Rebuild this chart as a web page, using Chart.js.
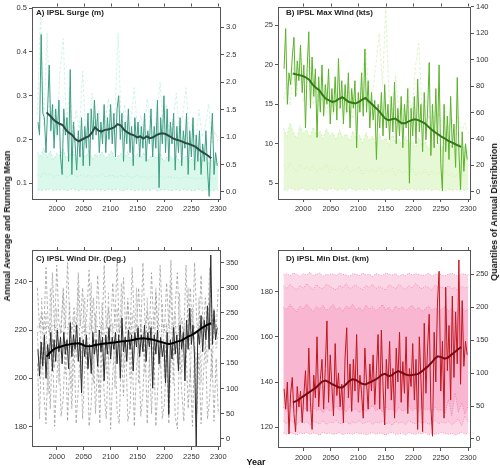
<!DOCTYPE html>
<html><head><meta charset="utf-8">
<script src="https://cdn.jsdelivr.net/npm/chart.js@4.4.0/dist/chart.umd.min.js"></script>
<style>
body{margin:0;background:#fff;width:500px;height:468px;position:relative;overflow:hidden;font-family:"Liberation Sans",Arial,sans-serif;}
canvas{position:absolute;}
.t{position:absolute;font-weight:bold;font-size:9px;color:#111;white-space:nowrap;}
.pt{position:absolute;font-weight:bold;font-size:8px;color:#222;white-space:nowrap;}
</style></head><body>
<canvas id="cA" width="250" height="220" style="left:0;top:0"></canvas>
<canvas id="cB" width="250" height="220" style="left:250px;top:0"></canvas>
<canvas id="cC" width="250" height="248" style="left:0;top:220px"></canvas>
<canvas id="cD" width="250" height="248" style="left:250px;top:220px"></canvas>
<div class="pt" style="left:36px;top:8px">A) IPSL Surge (m)</div>
<div class="pt" style="left:286px;top:8px">B) IPSL Max Wind (kts)</div>
<div class="pt" style="left:36px;top:254px">C) IPSL Wind Dir. (Deg.)</div>
<div class="pt" style="left:286px;top:254px">D) IPSL Min Dist. (km)</div>
<div class="t" style="left:7px;top:226px;transform:translate(-50%,-50%) rotate(-90deg)">Annual Average and Running Mean</div>
<div class="t" style="left:494px;top:212px;transform:translate(-50%,-50%) rotate(-90deg)">Quantiles of Annual Distribution</div>
<div class="t" style="left:256px;top:462px;transform:translate(-50%,-50%)">Year</div>
<script>
// ---------- categories / ticks ----------
const xTicks = [2000, 2050, 2100, 2150, 2200, 2250, 2300];
const annualStart = 1965, annualStep = 3;
const runStart = 1981, runStep = 6;
const qStart = 1964, qStep = 6;
const qcStart = 1964, qcStep = 4;

const ticksA_left = [0.1, 0.2, 0.3, 0.4, 0.5];
const ticksA_right = [0, 0.5, 1.0, 1.5, 2.0, 2.5, 3.0];
const ticksB_left = [5, 10, 15, 20, 25];
const ticksB_right = [0, 20, 40, 60, 80, 100, 120, 140];
const ticksC_left = [180, 200, 220, 240];
const ticksC_right = [0, 50, 100, 150, 200, 250, 300, 350];
const ticksD_left = [120, 140, 160, 180];
const ticksD_right = [0, 50, 100, 150, 200, 250];

// ---------- A) Surge ----------
const surgeAnnual = [0.24,0.21,0.44,0.26,0.25,0.17,0.27,0.37,0.22,0.28,
 0.18,0.27,0.21,0.29,0.16,0.12,0.27,0.21,0.25,0.15,
 0.36,0.12,0.24,0.19,0.13,0.22,0.16,0.25,0.14,0.23,
 0.18,0.26,0.14,0.27,0.20,0.29,0.21,0.26,0.17,0.24,
 0.19,0.28,0.17,0.25,0.20,0.28,0.19,0.26,0.16,0.27,
 0.30,0.20,0.26,0.15,0.24,0.19,0.27,0.17,0.23,0.14,
 0.25,0.19,0.24,0.16,0.23,0.18,0.26,0.15,0.22,0.19,
 0.27,0.16,0.23,0.18,0.29,0.09,0.25,0.19,0.30,0.17,
 0.27,0.15,0.24,0.19,0.26,0.13,0.23,0.17,0.25,0.14,
 0.22,0.18,0.26,0.12,0.22,0.16,0.25,0.13,0.21,0.15,
 0.22,0.12,0.19,0.15,0.22,0.13,0.07,0.19,0.26,0.12,
 0.17,0.14];
const surgeRun = [0.262,0.255,0.247,0.240,0.236,0.233,0.222,0.215,0.210,0.200,
 0.196,0.200,0.204,0.207,0.215,0.228,0.221,0.218,0.222,0.223,
 0.225,0.228,0.235,0.232,0.222,0.216,0.212,0.210,0.205,0.207,
 0.202,0.207,0.203,0.205,0.210,0.213,0.214,0.212,0.208,0.203,
 0.200,0.198,0.195,0.192,0.190,0.187,0.184,0.178,0.172,0.168,
 0.163,0.157];
const surgeQLow = [0.04,0.02,0.05,0.03,0.06,0.02,0.04,0.03,0.05,0.02,
 0.04,0.06,0.03,0.02,0.05,0.03,0.04,0.02,0.06,0.03,
 0.04,0.02,0.05,0.03,0.04,0.06,0.02,0.03,0.05,0.04,
 0.02,0.03,0.05,0.02,0.04,0.03,0.06,0.02,0.04,0.03,
 0.05,0.02,0.03,0.04,0.02,0.05,0.03,0.04,0.02,0.03,
 0.05,0.02,0.04,0.03,0.02,0.04,0.03];
const surgeQMid = [0.32,0.28,0.35,0.30,0.33,0.27,0.31,0.29,0.34,0.26,
 0.30,0.33,0.28,0.29,0.32,0.27,0.31,0.26,0.30,0.28,
 0.33,0.27,0.29,0.31,0.26,0.28,0.30,0.27,0.32,0.25,
 0.28,0.30,0.26,0.29,0.25,0.27,0.29,0.26,0.30,0.24,
 0.27,0.28,0.25,0.27,0.24,0.26,0.28,0.25,0.26,0.23,
 0.26,0.24,0.27,0.23,0.25,0.24,0.22];
const surgeQHigh = [0.72,0.65,0.80,0.62,0.75,0.58,0.70,0.66,0.78,0.60,
 0.68,0.74,0.57,0.66,0.71,0.63,0.76,0.59,0.69,0.64,
 0.73,0.61,0.67,0.75,0.58,0.66,0.70,0.62,0.74,0.57,
 0.65,0.69,0.60,0.72,0.56,0.64,0.68,0.59,0.71,0.55,
 0.63,0.67,0.58,0.66,0.54,0.62,0.65,0.57,0.60,0.53,
 0.61,0.56,0.64,0.52,0.58,0.55,0.50];
const surgeQMax = [1.4,3.3,1.2,2.9,1.1,1.6,1.0,2.2,2.8,1.2,
 1.9,1.0,1.5,1.1,2.2,1.0,1.4,1.8,1.1,1.5,
 1.0,1.3,1.7,1.0,1.4,2.9,1.1,1.6,1.0,1.3,
 1.9,1.1,1.4,1.0,1.7,1.2,1.0,1.5,2.0,1.1,
 1.6,1.0,1.3,1.8,1.0,1.4,1.9,1.1,1.3,0.9,
 1.5,1.0,1.2,1.6,0.9,1.1,0.9];

// ---------- B) Max Wind ----------
const windAnnual = [19.5,24.6,15.0,19.0,17.5,21.0,23.5,16.0,20.5,18.0,
 22.5,16.5,20.0,12.0,19.5,24.2,14.5,21.0,16.0,19.5,
 10.8,18.5,14.0,20.0,13.5,17.5,15.0,19.5,12.5,17.0,
 14.0,18.5,13.0,20.8,14.5,18.0,12.5,17.5,14.0,19.0,
 12.0,17.0,14.5,18.0,9.5,16.5,14.0,19.0,13.5,22.0,
 14.0,18.0,12.0,16.5,13.0,15.5,8.0,15.0,12.0,16.5,
 11.0,17.5,12.0,15.0,10.5,16.0,11.5,17.8,10.0,14.5,
 11.0,16.0,9.5,15.0,12.0,17.0,5.0,14.5,11.0,16.0,
 10.0,18.2,11.5,15.0,9.0,16.5,10.5,14.0,20.3,8.5,
 15.0,9.5,17.0,10.0,20.0,7.5,4.0,15.0,9.0,13.5,
 8.0,16.0,9.5,12.5,7.0,18.4,9.0,4.2,11.5,6.5,
 10.0,8.0];
const windRun = [18.9,18.8,18.7,18.6,18.4,18.1,17.5,17.1,16.8,16.2,
 15.7,15.5,15.3,15.4,15.7,15.9,15.6,15.3,15.2,15.1,
 15.3,15.6,15.8,15.4,15.0,14.6,14.2,13.7,13.2,13.0,
 13.1,13.2,12.9,12.6,12.6,12.8,13.0,13.1,13.0,12.8,
 12.6,12.2,11.8,11.5,11.2,10.9,10.7,10.4,10.2,10.0,
 9.8,9.6];
const windQLow = [2,1,3,2,1,2,3,1,2,2,1,3,2,1,2,3,1,2,2,1,3,2,1,2,2,1,3,1,2,2,
 1,2,3,1,2,1,2,2,1,3,1,2,1,2,2,1,2,1,3,1,2,1,2,1,2,1,2];
const windQMid = [20,16,22,18,15,21,17,19,16,20,15,18,17,21,14,19,16,18,15,20,
 14,17,16,19,13,18,15,17,14,19,13,16,15,18,12,17,14,16,13,18,
 12,15,14,17,12,16,13,15,11,16,12,14,11,15,12,13,11];
const windQHigh = [48,42,52,45,40,50,44,47,41,49,43,46,40,48,42,45,39,47,41,44,
 38,46,40,43,37,45,39,42,36,44,38,41,35,43,37,40,34,42,36,39,
 33,41,35,38,32,40,34,37,31,39,33,36,30,38,32,35,30];
const windQMax = [70,82,65,95,72,110,68,85,100,66,78,62,74,60,70,58,68,62,75,58,
 66,55,70,60,92,108,64,75,96,120,80,140,70,62,88,58,66,54,72,60,
 95,112,62,70,55,66,52,60,50,64,48,56,46,58,45,52,44];

// ---------- C) Wind Direction ----------
const dirAnnual = [212,201,215,205,218,200,214,208,219,203,
 216,207,220,211,217,206,219,210,216,204,
 223,209,218,212,222,207,217,194,216,209,
 218,204,214,202,219,210,216,205,220,211,
 217,199,218,210,221,208,217,212,219,206,
 218,200,225,211,217,207,220,212,218,203,
 219,213,221,209,218,211,222,207,219,213,
 221,196,218,210,220,206,217,209,214,198,
 219,185,216,208,221,210,218,203,222,212,
 219,199,224,212,229,214,222,208,172,220,
 214,226,211,224,216,230,212,251,214,228,
 216,221];
const dirRun = [209.0,210.5,211.8,212.6,213.0,213.4,213.8,214.0,214.3,214.4,
 214.5,214.0,213.4,213.3,213.4,213.8,214.0,214.2,214.4,214.5,
 214.7,214.8,215.0,215.2,215.3,215.5,215.7,216.0,216.3,216.5,
 216.6,216.4,216.2,216.0,215.6,215.2,214.8,214.4,214.2,214.5,
 215.0,215.4,215.8,216.6,217.4,218.0,218.8,219.8,220.8,221.6,
 222.3,222.8];
const dirQHigh = [300,220,250,215,340,225,205,330,215,345,
 230,210,300,220,350,240,215,260,210,330,
 225,300,205,250,335,215,280,210,325,230,
 205,345,220,260,215,310,225,355,210,240,
 320,215,270,205,340,230,215,300,210,350,
 225,255,210,330,220,290,205,345,235,215,
 310,225,355,210,265,330,215,240,205,345,
 220,300,210,350,230,215,325,205,280,215,340,225,260,215,300];
const dirQMid = [210,120,280,150,250,90,300,180,140,260,
 110,230,290,130,200,270,100,240,160,300,
 120,220,280,140,190,310,110,250,170,90,
 270,200,130,290,150,230,100,260,180,310,
 140,210,280,120,250,170,300,110,230,190,
 130,280,160,240,100,300,200,140,270,120,
 230,180,310,110,250,150,290,130,220,170,
 300,120,260,190,140,280,110,240,200,150,
 270,120,230,180,210];
const dirQLow = [150,40,190,90,30,170,60,200,25,120,
 185,45,80,195,35,150,60,190,30,100,
 180,40,140,200,25,70,185,50,160,30,
 195,90,40,175,20,130,195,55,30,170,
 85,200,35,60,180,25,140,190,45,90,
 200,30,160,50,185,25,110,195,40,70,
 175,30,150,200,45,20,180,95,35,190,
 60,140,25,185,50,170,30,120,195,40,
 80,180,35,160,50];
const dirQBandHi = [222,225,219,224,221,226,218,223,225,220,224,221,226,219,223,220,225,218,224,222,
 226,219,223,225,220,224,221,226,218,223,222,225,219,224,220,226,218,223,225,221,
 224,219,226,222,223,220,225,219,224,221,226,218,223,225,220,224,222];
const dirQBandLo = [211,214,209,213,215,208,212,210,214,209,213,211,215,208,212,214,209,213,210,215,
 208,212,211,214,209,213,215,210,212,208,214,211,213,209,215,210,212,208,214,211,
 213,209,215,210,212,214,208,213,211,209,215,210,212,214,209,213,211];

// ---------- D) Min Distance ----------
const distAnnual = [137,128,140,117,135,142,126,118,138,129,
 136,122,134,145,127,155,131,119,143,133,
 160,129,141,150,128,146,167,131,152,138,
 125,157,134,144,129,139,122,151,164,133,
 148,127,150,136,161,131,143,135,124,155,
 140,128,148,136,152,130,145,161,128,163,
 138,121,150,137,158,132,146,124,155,140,
 162,131,149,135,160,126,146,138,157,132,
 150,119,160,141,118,166,135,155,170,129,
 116,162,140,175,189,136,158,124,182,145,
 165,132,178,142,171,148,194,139,176,147,
 158,152];
const distRun = [131.0,131.5,132.5,133.5,134.5,135.5,136.5,137.5,139.0,140.3,
 140.6,139.8,139.0,138.3,137.6,137.6,138.8,140.3,141.2,141.0,
 140.0,139.2,138.9,139.6,140.3,141.0,142.0,143.2,143.6,142.6,
 143.0,144.2,144.8,144.2,143.4,143.0,143.1,143.3,143.6,144.6,
 145.8,147.0,148.5,150.3,151.4,151.0,150.3,150.8,152.0,153.2,
 154.4,155.5];
const distQMax = [249,251,248,252,250,247,251,249,253,248,250,252,247,250,249,251,248,252,250,249,
 247,251,250,248,252,249,250,247,251,249,248,252,250,249,251,247,250,248,252,249,
 251,250,248,249,252,247,250,251,249,248,250,252,249,247,251,250,249];
const distQ95 = [232,228,235,230,226,233,229,236,231,227,234,230,228,235,232,229,226,233,230,236,
 228,231,234,229,227,233,230,235,228,232,229,226,234,231,228,235,230,227,233,229,
 236,231,228,232,230,226,234,229,231,227,233,228,230,225,232,229,231];
const distQHigh = [200,196,204,198,193,202,197,205,199,194,201,197,203,195,199,204,196,200,193,202,
 198,205,196,200,194,203,197,201,195,199,204,196,200,193,202,197,201,195,199,203,
 196,200,194,198,202,195,199,193,197,201,194,198,192,196,200,194,197];
const distQLow = [48,42,52,45,40,50,44,47,41,49,43,46,40,48,42,45,50,43,47,41,
 49,44,46,40,48,42,45,51,43,47,41,49,44,46,40,48,42,45,50,43,
 47,41,49,44,46,40,48,42,45,39,60,35,70,40,55,38,50];
const distQ05 = [27,23,29,25,22,28,24,26,21,27,25,23,28,22,26,24,29,23,25,27,
 22,26,24,28,23,25,27,22,26,24,28,23,25,21,27,24,26,22,28,25,
 23,27,24,26,22,25,28,23,26,24,27,22,25,30,20,35,26];
const distQMin = [9,7,10,8,6,9,8,10,7,9,8,6,10,8,9,7,8,10,6,9,
 8,7,10,8,9,6,8,10,7,9,8,6,9,10,7,8,9,6,10,8,
 7,9,8,10,6,9,7,8,10,8,7,9,6,8,10,7,9];

// ---------- helpers ----------
function pts(start, step, vals) { return vals.map((v, i) => ({ x: start + i * step, y: v })); }
function line(data, color, width, order, extra) {
  return Object.assign({ data, borderColor: color, borderWidth: width, pointRadius: 0, fill: false, order, tension: 0 }, extra || {});
}
function annualDs(vals, color) { return line(pts(annualStart, annualStep, vals), color, 1, 2); }
function runDs(vals, color) { return line(pts(runStart, runStep, vals), color, 2, 1); }
function qDs(vals, color, order, dash, extra, start, step) {
  return line(pts(start || qStart, step || qStep, vals), color, 0.8, order,
    Object.assign({ yAxisID: 'y1', borderDash: dash }, extra || {}));
}

const frame = {
  id: 'frame',
  afterDraw(c) {
    const { ctx, chartArea: a } = c;
    ctx.save();
    ctx.strokeStyle = '#555'; ctx.lineWidth = 1;
    ctx.strokeRect(Math.round(a.left) + 0.5, Math.round(a.top) + 0.5, Math.round(a.right - a.left) - 1, Math.round(a.bottom - a.top) - 1);
    const xs = c.scales.x;
    xTicks.forEach(v => {
      const p = Math.round(xs.getPixelForValue(v)) + 0.5;
      ctx.beginPath(); ctx.moveTo(p, a.top); ctx.lineTo(p, a.top - 3); ctx.stroke();
    });
    ctx.restore();
  }
};

const tickFont = { family: '"Liberation Sans", Arial, sans-serif', size: 7.5 };
function axis(pos, min, max, tickVals, fmt, sizeFn) {
  return {
    type: 'linear', position: pos, min, max,
    afterBuildTicks: s => { s.ticks = tickVals.map(v => ({ value: v })); },
    afterFit: sizeFn,
    ticks: { font: tickFont, color: '#333', padding: 2, autoSkip: false, maxRotation: 0, callback: fmt },
    grid: { display: true, drawOnChartArea: false, drawTicks: true, tickLength: 3, color: '#555' },
    border: { display: false }
  };
}

function makePanel(p) {
  new Chart(document.getElementById(p.id), {
    type: 'line',
    data: { datasets: p.datasets },
    options: {
      responsive: false, animation: false, events: [],
      layout: { padding: { top: p.padTop, left: 0, right: 0, bottom: 0 } },
      plugins: { legend: { display: false }, tooltip: { enabled: false } },
      scales: {
        x: axis('bottom', 1954, 2305, xTicks, v => String(v), s => { s.height = p.bottomH; }),
        y: axis('left', p.yMin, p.yMax, p.yTicks, p.fmtL, s => { s.width = p.leftW; }),
        y1: axis('right', p.y1Min, p.y1Max, p.y1Ticks, p.fmtR, s => { s.width = p.rightW; })
      }
    },
    plugins: [frame]
  });
}

const f1 = v => Number(v).toFixed(1);
const f0 = v => String(v);

// A
const mintLine = 'rgba(150,228,198,0.85)';
makePanel({
  id: 'cA', leftW: 32, rightW: 29, padTop: 4, bottomH: 21,
  yMin: 0.064, yMax: 0.504, yTicks: ticksA_left, fmtL: f1,
  y1Min: -0.13, y1Max: 3.38, y1Ticks: ticksA_right, fmtR: f1,
  datasets: [
    runDs(surgeRun, '#2c4a3f'),
    annualDs(surgeAnnual, '#3c9f82'),
    qDs(surgeQHigh, mintLine, 10, [2, 2], { fill: { target: 4, above: 'rgba(205,245,228,0.75)', below: 'rgba(205,245,228,0.75)' } }),
    qDs(surgeQMid, mintLine, 5, [1, 2]),
    qDs(surgeQLow, mintLine, 5, [2, 2]),
    qDs(surgeQMax, 'rgba(175,235,210,0.7)', 6, [3, 2])
  ]
});

// B
const lgLine = 'rgba(190,238,150,0.85)';
makePanel({
  id: 'cB', leftW: 28, rightW: 29, padTop: 3, bottomH: 21,
  yMin: 3.0, yMax: 27.4, yTicks: ticksB_left, fmtL: f0,
  y1Min: -5.4, y1Max: 140.2, y1Ticks: ticksB_right, fmtR: f0,
  datasets: [
    runDs(windRun, '#2f7a14'),
    annualDs(windAnnual, '#5cb22a'),
    qDs(windQHigh, lgLine, 10, [2, 2], { fill: { target: 4, above: 'rgba(222,246,200,0.75)', below: 'rgba(222,246,200,0.75)' } }),
    qDs(windQMid, lgLine, 5, [1, 2]),
    qDs(windQLow, lgLine, 5, [2, 2]),
    qDs(windQMax, 'rgba(200,238,165,0.75)', 6, [3, 2])
  ]
});

// C
const grayDash = 'rgba(150,150,150,0.9)';
makePanel({
  id: 'cC', leftW: 32, rightW: 29, padTop: 30, bottomH: 21,
  yMin: 171.6, yMax: 253.1, yTicks: ticksC_left, fmtL: f0,
  y1Min: -16, y1Max: 375, y1Ticks: ticksC_right, fmtR: f0,
  datasets: [
    runDs(dirRun, '#000000'),
    annualDs(dirAnnual, '#2a2a2a'),
    qDs(dirQHigh, grayDash, 6, [3, 2], null, qcStart, qcStep),
    qDs(dirQMid, 'rgba(175,175,175,0.9)', 7, [3, 2], null, qcStart, qcStep),
    qDs(dirQLow, grayDash, 6, [3, 2], null, qcStart, qcStep),
    qDs(dirQBandHi, 'rgba(110,110,110,0.9)', 5, [1, 1.5]),
    qDs(dirQBandLo, 'rgba(110,110,110,0.9)', 5, [1, 1.5])
  ]
});

// D
const pinkLine = 'rgba(236,110,165,0.9)';
makePanel({
  id: 'cD', leftW: 28, rightW: 29, padTop: 30, bottomH: 20,
  yMin: 110.8, yMax: 198.4, yTicks: ticksD_left, fmtL: f0,
  y1Min: -13.7, y1Max: 286.9, y1Ticks: ticksD_right, fmtR: f0,
  datasets: [
    runDs(distRun, '#7a0a14'),
    annualDs(distAnnual, '#c3161f'),
    qDs(distQMax, pinkLine, 12, [1, 1.5], { fill: { target: 7, above: '#fcd8e7', below: '#fcd8e7' } }),
    qDs(distQ95, pinkLine, 11, [1, 1.5], { fill: { target: 6, above: '#fbc9de', below: '#fbc9de' } }),
    qDs(distQHigh, pinkLine, 10, [1, 1.5], { fill: { target: 5, above: '#f8b6d1', below: '#f8b6d1' } }),
    qDs(distQLow, pinkLine, 5, [1, 1.5]),
    qDs(distQ05, pinkLine, 5, [1, 1.5]),
    qDs(distQMin, pinkLine, 5, [1, 1.5])
  ]
});
</script>
</body></html>
